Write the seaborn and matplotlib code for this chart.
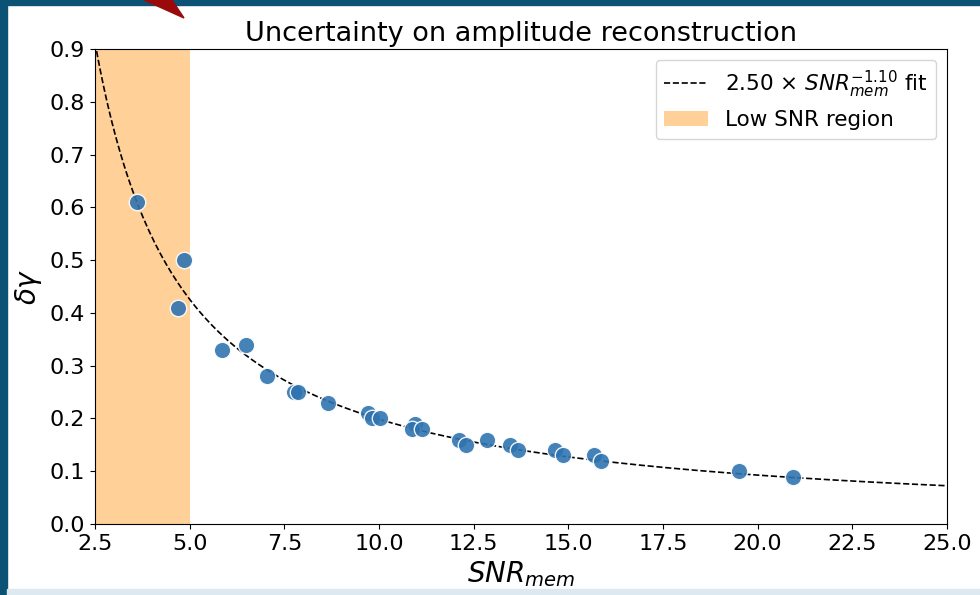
import numpy as np
import matplotlib.pyplot as plt
import seaborn as sns
from matplotlib.patches import Rectangle, Polygon

# measured points
snr = [3.61, 4.85, 4.69, 5.85, 6.48, 7.04, 7.75, 7.85, 8.65, 9.72, 9.82, 10.03,
       10.96, 10.87, 11.13, 12.10, 12.30, 12.86, 13.46, 13.67, 14.65, 14.86,
       15.68, 15.86, 19.50, 20.93]
dgamma = [0.61, 0.50, 0.41, 0.33, 0.34, 0.28, 0.25, 0.25, 0.23, 0.21, 0.20, 0.20,
          0.19, 0.18, 0.18, 0.16, 0.15, 0.16, 0.15, 0.14, 0.14, 0.13,
          0.13, 0.12, 0.10, 0.09]

# fit parameters (from legend)
fit_a = 2.50
fit_b = -1.10
low_snr = (2.5, 5.0)

W, H = 980, 595
fig = plt.figure(figsize=(9.8, 5.95), dpi=100)

# slide frame around the screenshot
fig.patches.append(Rectangle((0, 0), 7 / W, 1, transform=fig.transFigure, color='#0b5275', zorder=0))
fig.patches.append(Rectangle((0, 1 - 5 / H), 1, 5 / H, transform=fig.transFigure, color='#0b5275', zorder=0))
fig.patches.append(Rectangle((7 / W, 0), 1, 6 / H, transform=fig.transFigure, color='#dde9f0', zorder=0))
fig.patches.append(Polygon([(144 / W, 1), (184 / W, 1 - 18 / H), (172 / W, 1)],
                           transform=fig.transFigure, color='#9b0a0a', zorder=1))

ax = fig.add_axes([95 / W, 1 - 524 / H, 852 / W, 475 / H])

x_fit = np.linspace(2.5, 25, 300)
sns.lineplot(x=x_fit, y=fit_a * x_fit ** fit_b, ax=ax, color='black', ls='--', lw=1.2,
             label=r'2.50 $\times$ $SNR_{mem}^{-1.10}$ fit')
ax.axvspan(*low_snr, color='darkorange', alpha=0.4, lw=0, zorder=0, label='Low SNR region')
sns.scatterplot(x=snr, y=dgamma, ax=ax, color='#2f74b0', s=140, alpha=0.9,
                edgecolor='white', linewidth=1, zorder=3)

ax.set_xlim(2.5, 25)
ax.set_ylim(0, 0.9)
ax.set_xlabel('$SNR_{mem}$', fontsize=20)
ax.set_ylabel(r'$\delta\gamma$', fontsize=20)
ax.set_title('Uncertainty on amplitude reconstruction', fontsize=19.5)
ax.tick_params(labelsize=16)
ax.legend(loc='upper right', fontsize=15.5)

plt.savefig('out.png', dpi=100)
